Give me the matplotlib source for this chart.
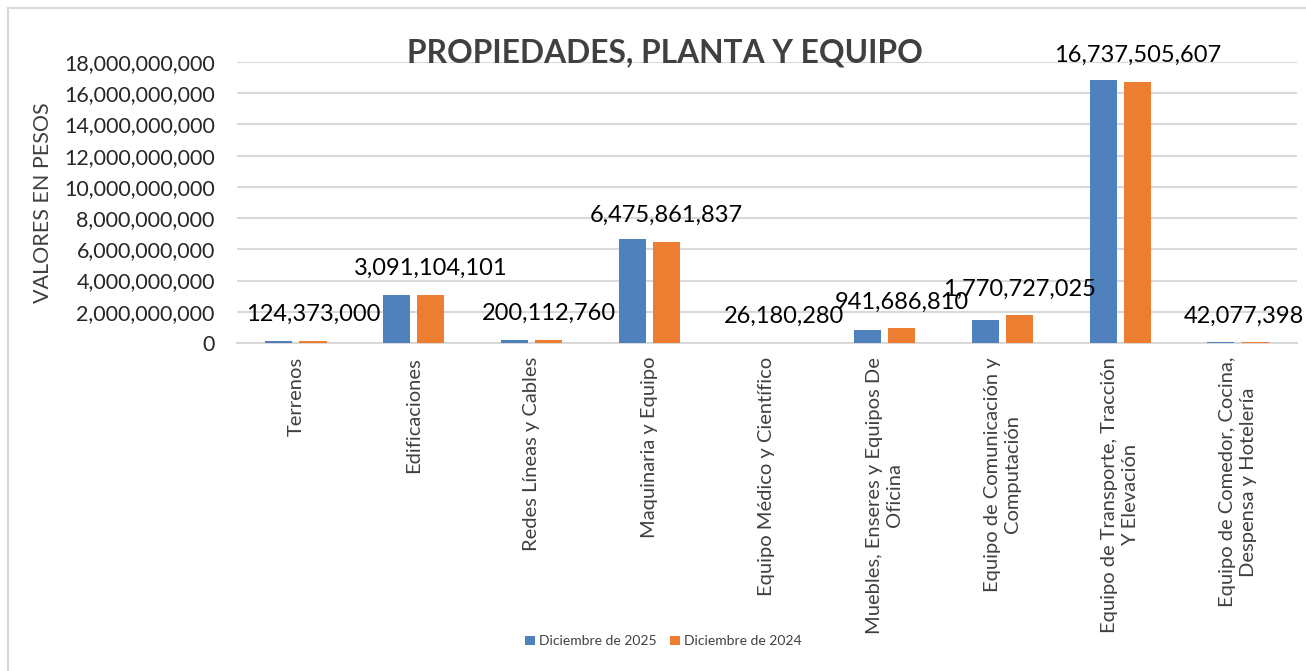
import matplotlib
matplotlib.use("Agg")
import matplotlib.pyplot as plt
import numpy as np
from matplotlib.patches import Rectangle
from matplotlib.ticker import FuncFormatter, MultipleLocator

plt.rcParams["font.family"] = ["Lato", "DejaVu Sans"]

categorias = [
    "Terrenos",
    "Edificaciones",
    "Redes Líneas y Cables",
    "Maquinaria y Equipo",
    "Equipo Médico y Científico",
    "Muebles, Enseres y Equipos De\nOficina",
    "Equipo de Comunicación y\nComputación",
    "Equipo de Transporte, Tracción\nY Elevación",
    "Equipo de Comedor, Cocina,\nDespensa y Hotelería",
]
dic_2025 = [124_373_000, 3_100_000_000, 205_000_000, 6_680_000_000, 24_000_000,
            860_000_000, 1_470_000_000, 16_820_000_000, 40_000_000]
dic_2024 = [124_373_000, 3_091_104_101, 200_112_760, 6_475_861_837, 26_180_280,
            941_686_810, 1_770_727_025, 16_737_505_607, 42_077_398]
series = ["Diciembre de 2025", "Diciembre de 2024"]

AZUL = "#4F81BD"
NARANJA = "#ED7D31"
GRIS_TEXTO = "#404040"

fig = plt.figure(figsize=(13.06, 6.71), dpi=100)
ax = fig.add_axes([0.1815, 0.4888, 0.8115, 0.4188])

x = np.arange(len(categorias))
ancho = 0.23
sep = 0.145
ax.bar(x - sep, dic_2025, width=ancho, color=AZUL, label=series[0], zorder=3)
ax.bar(x + sep, dic_2024, width=ancho, color=NARANJA, label=series[1], zorder=3)

# value labels above the 2024 bars; the last one is nudged left to stay inside
desplaz_x = {8: -8}
for i, (xi, v) in enumerate(zip(x, dic_2024)):
    ax.annotate(f"{v:,.0f}", xy=(xi + sep, v), xytext=(desplaz_x.get(i, 0), 19),
                textcoords="offset points", ha="center", va="center",
                fontsize=17, color="black", annotation_clip=False, zorder=4)

ax.set_xlim(-0.5, len(categorias) - 0.5)
ax.set_ylim(0, 18_000_000_000)
ax.yaxis.set_major_locator(MultipleLocator(2_000_000_000))
ax.yaxis.set_major_formatter(FuncFormatter(lambda v, p: f"{v:,.0f}"))
ax.grid(axis="y", color="#D9D9D9", linewidth=1.5, zorder=0)
ax.set_axisbelow(True)
for s in ["top", "right", "left"]:
    ax.spines[s].set_visible(False)
ax.spines["bottom"].set_color("#D9D9D9")
ax.spines["bottom"].set_linewidth(1.5)
ax.tick_params(axis="y", length=0, labelsize=15.5, pad=16, labelcolor="#262626")
ax.tick_params(axis="x", length=0, labelsize=14.5, pad=10, labelcolor=GRIS_TEXTO)

ax.set_xticks(x)
ax.set_xticklabels(categorias, rotation=90, ha="center", va="top",
                   multialignment="center", linespacing=1.25)

ax.set_ylabel("VALORES EN PESOS", fontsize=15.5, color=GRIS_TEXTO, labelpad=8)

fig.text(0.509, 0.922, "PROPIEDADES, PLANTA Y EQUIPO", ha="center", va="center",
         fontsize=22.9, fontweight="bold", color=GRIS_TEXTO)

fig.legend(loc="center", bbox_to_anchor=(0.508, 0.044), ncol=2, frameon=False,
           fontsize=10, handlelength=0.7, handleheight=0.7, handletextpad=0.3,
           columnspacing=1.0, labelcolor=GRIS_TEXTO)

# chart area border
fig.patches.append(Rectangle((8 / 1306, -0.01), 1.1, 1 - 8 / 671 + 0.01,
                             transform=fig.transFigure, fill=False,
                             edgecolor="#D9D9D9", linewidth=1.5))

fig.savefig("out.png", dpi=100)
